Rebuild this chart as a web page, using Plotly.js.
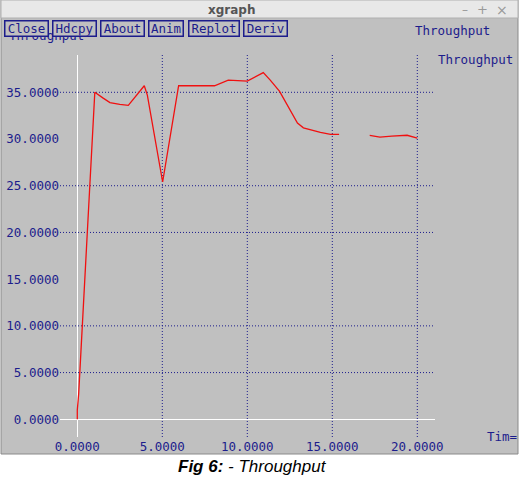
<!DOCTYPE html>
<html>
<head>
<meta charset="utf-8">
<script src="https://cdn.plot.ly/plotly-3.0.1.min.js"></script>
<style>
html,body{margin:0;padding:0;background:#fff;}
#chart{width:520px;height:480px;}
</style>
</head>
<body>
<div id="chart"></div>
<script>
// ---- data ----
const timeVals = [0, 0, 0.08, 0.4, 0.72, 0.86, 1.03, 1.5, 1.92, 2.5, 3.0, 3.94, 4.12, 5.02, 5.96, 7.0, 8.07, 8.88, 10.0, 10.94, 11.35, 11.9, 12.4, 12.95, 13.3, 13.7, 14.3, 14.9, 15.4, null, 17.2, 17.8, 18.5, 19.4, 20.0];
const throughput = [0, 1, 2.7, 14.1, 24.5, 29.1, 35.0, 34.4, 33.9, 33.7, 33.6, 35.7, 34.7, 25.4, 35.7, 35.7, 35.7, 36.3, 36.2, 37.1, 36.3, 35.1, 33.4, 31.7, 31.2, 31.0, 30.7, 30.5, 30.5, null, 30.4, 30.2, 30.3, 30.4, 30.1];
const xTicks = [0, 5, 10, 15, 20];
const yTicks = [0, 5, 10, 15, 20, 25, 30, 35];
const xGrid = [5, 10, 15, 20];
const yGrid = [5, 10, 20, 25, 35];
const buttonLabels = ["Close", "Hdcpy", "About", "Anim", "Replot", "Deriv"];
const seriesName = "Throughput";
const xUnit = "Tim=";
const windowTitle = "xgraph";
const captionBold = "Fig 6:";
const captionRest = " - Throughput";

// ---- layout helpers (pixel -> paper) ----
const L = 60, R = 435, T = 55, B = 437;
const px = x => (x - L) / (R - L);
const py = y => (B - y) / (B - T);
const NAVY = '#1c1c8c';
const GRAY = '#c0c0c0';
const mono = {family: 'DejaVu Sans Mono', size: 12.5, color: NAVY};

const shapes = [
  {type:'rect', xref:'paper', yref:'paper', x0:px(1), x1:px(518), y0:py(454), y1:py(0),
   fillcolor:GRAY, line:{color:'#8a8a8a', width:1}, layer:'below'},
  {type:'rect', xref:'paper', yref:'paper', x0:px(1), x1:px(518), y0:py(18), y1:py(0),
   fillcolor:'#e8e8e8', line:{color:'#b0b0b0', width:1}, layer:'below'}
];
xGrid.forEach(v => shapes.push({type:'line', xref:'x', yref:'paper', x0:v, x1:v, y0:0, y1:1,
  line:{color:NAVY, width:1, dash:'1px,2px'}, layer:'below'}));
yGrid.forEach(v => shapes.push({type:'line', xref:'paper', yref:'y', x0:0, x1:1, y0:v, y1:v,
  line:{color:NAVY, width:1, dash:'1px,2px'}, layer:'below'}));

function note(text, x, y, font, xa) {
  return {text:text, xref:'paper', yref:'paper', x:px(x), y:py(y), xanchor:xa || 'center', yanchor:'middle',
          showarrow:false, font:font};
}
const annotations = [
  note(windowTitle, 231, 10, {family:'DejaVu Sans', size:12, color:'#555', weight:'bold'}),
  note('–', 465, 10, {family:'DejaVu Sans', size:12, color:'#999'}),
  note('+', 483, 10, {family:'DejaVu Sans', size:13, color:'#999'}),
  note('×', 502, 10, {family:'DejaVu Sans', size:14, color:'#999'}),
  note(seriesName, 7, 35, mono, 'left'),
  note(seriesName, 413, 31, mono, 'left'),
  note(seriesName, 436, 59, mono, 'left'),
  note(xUnit, 485, 436, mono, 'left'),
  note('<b><i>'+captionBold+'</i></b><i>'+captionRest+'</i>', 252, 466, {family:'Liberation Sans', size:17, color:'#000'})
];
const btnLeft = [4, 51.5, 99.5, 147.5, 187.5, 242.5];
const btnWidth = [45, 45, 45, 36, 52, 45];
buttonLabels.forEach((t, i) => annotations.push({
  text:t, xref:'paper', yref:'paper', x:px(btnLeft[i]), y:py(20.5), xanchor:'left', yanchor:'top',
  showarrow:false, font:mono, width:btnWidth[i]-3, height:14, bgcolor:GRAY,
  bordercolor:NAVY, borderwidth:1.5, borderpad:0
}));

const trace = {
  x: timeVals, y: throughput, type:'scatter', mode:'lines', name:seriesName,
  connectgaps:false, line:{color:'#f01010', width:1.3}
};

const axisCommon = {showgrid:false, showline:false, ticks:'', tickfont:mono, tickformat:'.4f', fixedrange:true};
const layout = {
  width:520, height:480,
  margin:{l:L, r:520-R, t:T, b:480-B, pad:0},
  paper_bgcolor:'#ffffff', plot_bgcolor:'rgba(0,0,0,0)',
  showlegend:false,
  xaxis:Object.assign({}, axisCommon, {range:[(L-77.3)/17, (R-77.3)/17], tickvals:xTicks,
    zeroline:true, zerolinecolor:'#ffffff', zerolinewidth:1.5}),
  yaxis:Object.assign({}, axisCommon, {range:[(419.3-B)/9.343, (419.3-T)/9.343], tickvals:yTicks,
    zeroline:true, zerolinecolor:'#ffffff', zerolinewidth:1.5}),
  shapes:shapes, annotations:annotations
};
Plotly.newPlot('chart', [trace], layout, {staticPlot:true, displayModeBar:false});
</script>
</body>
</html>
